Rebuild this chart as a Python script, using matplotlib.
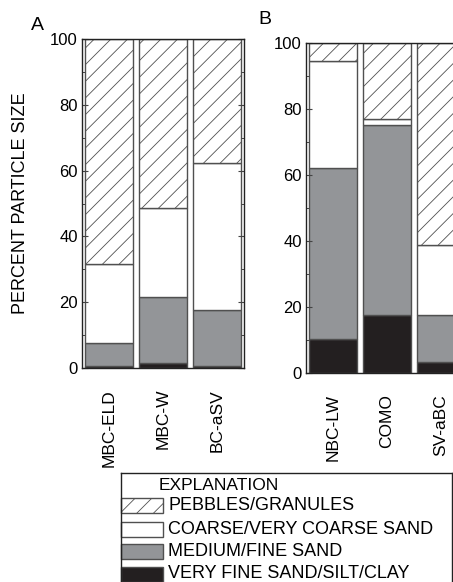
import matplotlib
matplotlib.use("Agg")
import matplotlib.pyplot as plt
from matplotlib.patches import Rectangle
from matplotlib.lines import Line2D
from matplotlib.ticker import MultipleLocator
import numpy as np

plt.rcParams['font.family'] = ['Liberation Sans', 'DejaVu Sans']
plt.rcParams['hatch.linewidth'] = 0.6
plt.rcParams['hatch.color'] = '#222222'

# Particle-size fractions (percent) for each site, stacked from finest upward
sites_a = ["MBC-ELD", "MBC-W", "BC-aSV"]
fines_a = [0.7, 1.5, 0.5]            # very fine sand / silt / clay
medium_a = [7.0, 20.0, 17.2]         # medium / fine sand
coarse_a = [24.0, 27.0, 44.6]        # coarse / very coarse sand
pebbles_a = [68.3, 51.5, 37.7]       # pebbles / granules

sites_b = ["NBC-LW", "COMO", "SV-aBC"]
fines_b = [10.4, 17.7, 3.4]
medium_b = [51.7, 57.5, 14.3]
coarse_b = [32.4, 1.8, 21.1]
pebbles_b = [5.5, 23.0, 61.2]

classes = ["PEBBLES/GRANULES", "COARSE/VERY COARSE SAND",
           "MEDIUM/FINE SAND", "VERY FINE SAND/SILT/CLAY"]
face = {"fines": "#231f20", "medium": "#939598", "coarse": "white", "pebbles": "white"}
hatch = {"fines": None, "medium": None, "coarse": None, "pebbles": "//"}
edge = "#505050"

W, H = 453, 582
fig = plt.figure(figsize=(W / 100, H / 100), dpi=100)


def px_rect(x0, y0, x1, y1):
    """Figure-fraction rectangle from pixel bounds (y measured downward)."""
    return [x0 / W, 1 - y1 / H, (x1 - x0) / W, (y1 - y0) / H]


ax_a = fig.add_axes(px_rect(82, 39, 244, 368))
ax_b = fig.add_axes(px_rect(306, 43, 468, 373))


def draw_panel(ax, sites, fines, medium, coarse, pebbles, label_pad):
    x = np.arange(len(sites))
    bottom = np.zeros(len(sites))
    for key, vals in (("fines", fines), ("medium", medium),
                      ("coarse", coarse), ("pebbles", pebbles)):
        ax.bar(x, vals, width=0.9, bottom=bottom, color=face[key],
               edgecolor=edge, linewidth=1.0, hatch=hatch[key])
        bottom = bottom + np.array(vals)
    ax.set_xlim(-0.5, len(sites) - 0.5)
    ax.set_ylim(0, 100)
    ax.set_xticks(x)
    ax.set_xticklabels(sites, rotation=90, fontsize=12.5, va='top')
    ax.tick_params(axis='x', length=0, pad=label_pad)
    ax.yaxis.set_major_locator(MultipleLocator(20))
    ax.yaxis.set_minor_locator(MultipleLocator(10))
    ax.tick_params(axis='y', which='both', direction='in', left=True, right=True,
                   labelsize=12, pad=3, color='#444444')
    ax.tick_params(axis='y', which='major', length=4, width=0.8)
    ax.tick_params(axis='y', which='minor', length=2.5, width=0.7)
    for s in ax.spines.values():
        s.set_linewidth(1.0)
        s.set_color('#222222')


draw_panel(ax_a, sites_a, fines_a, medium_a, coarse_a, pebbles_a, 15)
draw_panel(ax_b, sites_b, fines_b, medium_b, coarse_b, pebbles_b, 15)

ax_a.set_ylabel("PERCENT PARTICLE SIZE", fontsize=13)
ax_a.yaxis.set_label_coords(-0.33, 0.5)

fig.text(37 / W, 1 - 25 / H, "A", fontsize=14, ha='center', va='center')
fig.text(265 / W, 1 - 20 / H, "B", fontsize=14, ha='center', va='center')

# Explanation box (bottom edge runs off the figure)
bx0, bx1, by0 = 120.5, 451.5, 473
for xs, ys in (([bx0, bx0], [by0, H + 5]), ([bx1, bx1], [by0, H + 5]), ([bx0, bx1], [by0, by0])):
    fig.add_artist(Line2D([v / W for v in xs], [1 - v / H for v in ys],
                          transform=fig.transFigure, color='#222222', linewidth=1.0))
fig.text(159 / W, 1 - 485 / H, "EXPLANATION", fontsize=12.5, ha='left', va='center')

legend_keys = ["pebbles", "coarse", "medium", "fines"]
row_y = [505, 529, 551, 574]
for key, name, yc in zip(legend_keys, classes, row_y):
    r = Rectangle((121 / W, 1 - (yc + 7.5) / H), 42 / W, 15 / H,
                  transform=fig.transFigure, facecolor=face[key], edgecolor=edge,
                  linewidth=1.0, hatch=hatch[key])
    fig.add_artist(r)
    fig.text(168 / W, 1 - yc / H, name, fontsize=13, ha='left', va='center')

fig.savefig("out.png", dpi=100)
